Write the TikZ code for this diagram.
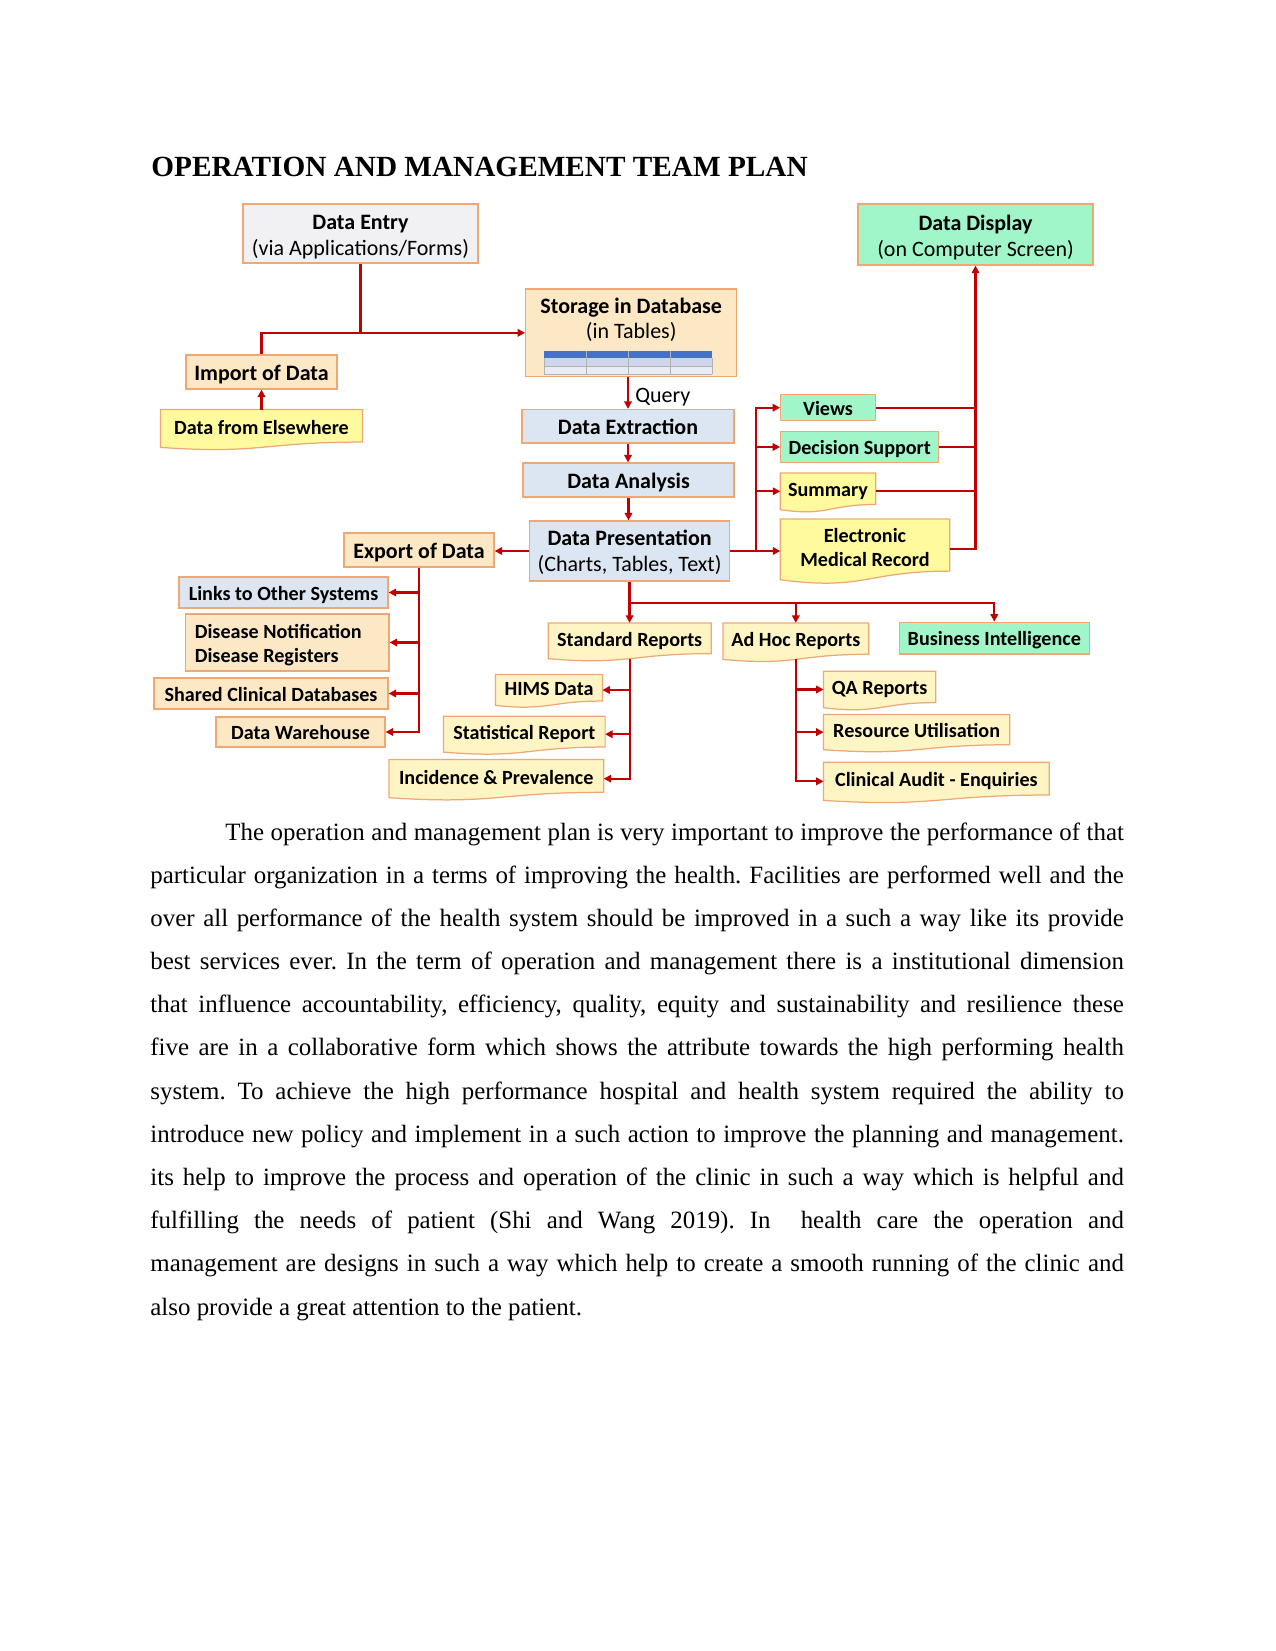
\documentclass[tikz,border=0pt]{standalone}
\usepackage{fontspec}
\setmainfont{Liberation Serif}
\newfontfamily\calib{Carlito}
\usetikzlibrary{arrows.meta,calc,backgrounds}
\definecolor{lred}{HTML}{C00000}
\definecolor{bord}{HTML}{EFA874}
\definecolor{peach}{HTML}{FCE8C4}
\definecolor{lblue}{HTML}{DCE6F2}
\definecolor{mint}{HTML}{A0F6C9}
\definecolor{ylw}{HTML}{FFFA9E}
\definecolor{pyel}{HTML}{FFF5C4}
\definecolor{lgray}{HTML}{F1F1F3}
\definecolor{tblue}{HTML}{4472C4}
\definecolor{trowa}{HTML}{CFD5EA}
\definecolor{trowb}{HTML}{E9EBF5}
\newcommand\mkbox[7][]{\node[#1, minimum width={(#5-#3)*0.4818pt}, minimum height={(#6-#4)*0.4818pt}] (#2) at ({(#3+#5)/2},{(#4+#6)/2}) {#7};}
\newcommand\docbg[2]{%
  \path[fill=#2, draw=bord, line width=0.6pt] let \p1=(#1.north), \p2=(#1.south), \n1={\y1-\y2} in
    (#1.north west) -- (#1.north east) -- ([yshift=0.1413*\n1]#1.south east)
    .. controls ([yshift=0.1413*\n1]#1.south) and ([yshift=-0.185*\n1]#1.south) .. (#1.south west) -- cycle;}
\newcommand\fstrut[1]{\rule{0pt}{#1em}}
\tikzset{
  fbig/.style={font=\calib\fontsize{10.6}{12.5}\selectfont\bfseries},
  fsmall/.style={font=\calib\fontsize{9.7}{11.6}\selectfont\bfseries},
  rbox/.style={draw=bord, line width=0.6pt, inner sep=0pt, align=center,
    execute at begin node={\rule[-0.22em]{0pt}{1.2em}}},
  dbox/.style={inner sep=0pt, align=center,
    execute at end node={\rule[-0.15em]{0pt}{0.15em}}},
  conn/.style={draw=lred, line width=1.1pt},
  arr/.style={conn, -{Triangle[length=3.6pt,width=3.6pt]}},
  body/.style={anchor=base west, inner sep=0pt, font=\fontsize{12}{14}\selectfont\frenchspacing},
}
\begin{document}
\begin{tikzpicture}[x=0.4818pt, y=-0.4818pt]
\useasboundingbox (0,0) rectangle (1275,1651);

\node[anchor=base west, inner sep=0pt, font=\bfseries\fontsize{14.1}{16}\selectfont] (title) at (151,177) {OPERATION AND MANAGEMENT TEAM PLAN};

% top part
\mkbox[rbox, fill=lgray, fbig]{dentry}{243}{204}{478}{263}{\fstrut{1.05}Data Entry\\\textmd{(via Applications/Forms)}}
\mkbox[rbox, fill=mint, fbig]{ddisp}{858}{204}{1093}{265}{\fstrut{1.05}Data Display\\\textmd{(on Computer Screen)}}
\mkbox[rbox, fill=peach]{stor}{525.7}{289}{736.7}{376.7}{}
\node[anchor=base, inner sep=0pt, fbig] (st1) at (631.2,313.3) {Storage in Database};
\node[anchor=base, inner sep=0pt, fbig] (st2) at (631.2,338.5) {\textmd{(in Tables)}};
\fill[tblue] (544.3,351) rectangle (712,358.3);
\fill[trowa] (544.3,358.3) rectangle (712,366);
\fill[trowb] (544.3,366) rectangle (712,374);
\draw[gray!60, line width=0.3pt] (544.3,366) -- (712,366) (544.3,374) -- (712,374)
  (586.7,351) -- (586.7,374) (628.7,351) -- (628.7,374) (670.3,351) -- (670.3,374)
  (544.3,358.3) -- (544.3,374) (712,358.3) -- (712,374);
\mkbox[rbox, fill=peach, fbig]{imp}{186}{355}{337}{389}{Import of Data}
\mkbox[dbox, fsmall]{elsew}{161}{410}{362}{447}{Data from Elsewhere}
\mkbox[rbox, fill=lblue, fbig]{dext}{522}{409.5}{734}{443}{Data Extraction}
\mkbox[rbox, fill=lblue, fbig]{dana}{523}{463}{734}{497}{Data Analysis}
\mkbox[rbox, fill=lblue, fbig]{dpres}{529.6}{521}{729.6}{581}{\fstrut{0.87}Data Presentation\\\textmd{(Charts, Tables, Text)}}

% right column
\mkbox[rbox, fill=mint, fsmall]{views}{780.7}{394.7}{875.3}{420.7}{Views}
\mkbox[rbox, fill=mint, fsmall]{dsup}{780.7}{431.7}{938.7}{462.3}{Decision Support}
\mkbox[dbox, fsmall]{summ}{780.7}{473.3}{875.3}{509.3}{Summary}
\mkbox[dbox, fsmall]{emr}{780.7}{519.3}{949.3}{579.3}{Electronic\\Medical Record}

% left column
\mkbox[rbox, fill=peach, fbig]{expd}{344}{533}{494}{567}{Export of Data}
\mkbox[rbox, fill=lblue, fsmall]{links}{179}{577}{388}{608}{Links to Other Systems}
\mkbox[rbox, fill=peach, fsmall, align=left]{disease}{185.7}{614}{389}{671}{\fstrut{1.06}Disease Notification\hbox to 8.7pt{}\\Disease Registers}
\mkbox[rbox, fill=peach, fsmall]{shared}{154}{678}{388}{709}{Shared Clinical Databases}
\mkbox[rbox, fill=peach, fsmall]{wareh}{216}{717}{385}{747}{Data Warehouse}

% reports
\mkbox[dbox, fsmall]{stdr}{548.7}{623.3}{710.7}{658.3}{Standard Reports}
\mkbox[dbox, fsmall]{adhoc}{723.3}{623.3}{868.3}{659}{Ad Hoc Reports}
\mkbox[rbox, fill=mint, fsmall]{bi}{899.3}{622.3}{1089.3}{654}{Business Intelligence}
\mkbox[dbox, fsmall]{hims}{496}{675}{602}{705}{HIMS Data}
\mkbox[dbox, fsmall]{stat}{444}{716.7}{604.7}{751.7}{Statistical Report}
\mkbox[dbox, fsmall]{inc}{389.3}{760}{603.3}{797.3}{Incidence \& Prevalence}
\mkbox[dbox, fsmall]{qa}{824}{671.7}{935.3}{707.3}{QA Reports}
\mkbox[dbox, fsmall]{ru}{824}{715}{1009.3}{749.3}{Resource Utilisation}
\mkbox[dbox, fsmall]{ca}{824}{762.7}{1048.7}{800}{Clinical Audit - Enquiries}

\begin{scope}[on background layer]
\docbg{elsew}{ylw}
\docbg{summ}{ylw}
\docbg{emr}{ylw}
\docbg{stdr}{pyel}
\docbg{adhoc}{pyel}
\docbg{hims}{pyel}
\docbg{stat}{pyel}
\docbg{inc}{pyel}
\docbg{qa}{pyel}
\docbg{ru}{pyel}
\docbg{ca}{pyel}
\end{scope}

% connectors
\draw[arr] (dentry.south) |- (stor.west);
\draw[conn] (imp.north) |- (dentry.south |- stor.west);
\draw[arr] (elsew.north) -- (imp.south);
\draw[arr] (stor.south -| dext.north) -- (dext.north)
  node[midway, anchor=west, inner sep=0pt, xshift=3pt, yshift=-1.8pt, font=\calib\fontsize{10.6}{12.5}\selectfont] (query) {Query};
\draw[arr] (dext.south) -- (dext.south |- dana.north);
\draw[arr] (dana.south) -- (dana.south |- dpres.north);

\coordinate (busL) at (756,551);
\draw[conn] (dpres.east) -- (busL);
\draw[arr] (busL) |- (views.west);
\draw[arr] (busL) |- (dsup.west);
\draw[arr] (busL) |- (summ.west);
\draw[arr] (busL) -- (busL -| emr.west);
\draw[arr] (emr.east) -| (ddisp.south);
\draw[conn] (views.east) -- (views.east -| ddisp.south);
\draw[conn] (dsup.east) -- (dsup.east -| ddisp.south);
\draw[conn] (summ.east) -- (summ.east -| ddisp.south);

\draw[arr] (dpres.west) -- (dpres.west -| expd.east);
\draw[arr] (expd.south) |- (links.east);
\draw[arr] (expd.south) |- (disease.east);
\draw[arr] (expd.south) |- (shared.east);
\draw[arr] (expd.south) |- (wareh.east);

\coordinate (busB) at (629.6,602.7);
\draw[arr] (dpres.south) -- (dpres.south |- stdr.north);
\draw[arr] (busB) -| (adhoc.north);
\draw[arr] (busB) -| (bi.north);
\draw[arr] (stdr.south) |- (hims.east);
\draw[arr] (stdr.south) |- (stat.east);
\draw[arr] (stdr.south) |- (inc.east);
\draw[arr] (adhoc.south) |- (qa.west);
\draw[arr] (adhoc.south) |- (ru.west);
\draw[arr] (adhoc.south) |- (ca.west);

% body text
\node[body] (l1) at (225,840) {\makebox[432.9pt][s]{The operation and management plan is very important to improve the performance of that}};
\node[body] (l2) at (150,883.2) {\makebox[469.0pt][s]{particular organization in a terms of improving the health. Facilities are performed well and the}};
\node[body] (l3) at (150,926.4) {\makebox[469.0pt][s]{over all performance of the health system should be improved in a such a way like its provide}};
\node[body] (l4) at (150,969.5) {\makebox[469.0pt][s]{best services ever. In the term of operation and management there is a institutional dimension}};
\node[body] (l5) at (150,1012.7) {\makebox[469.0pt][s]{that influence accountability, efficiency, quality, equity and sustainability and resilience these}};
\node[body] (l6) at (150,1055.9) {\makebox[469.0pt][s]{five are in a collaborative form which shows the attribute towards the high performing health}};
\node[body] (l7) at (150,1099.1) {\makebox[469.0pt][s]{system. To achieve the high performance hospital and health system required the ability to}};
\node[body] (l8) at (150,1142.3) {\makebox[469.0pt][s]{introduce new policy and implement in a such action to improve the planning and management.}};
\node[body] (l9) at (150,1185.4) {\makebox[469.0pt][s]{its help to improve the process and operation of the clinic in such a way which is helpful and}};
\node[body] (l10) at (150,1228.6) {\makebox[469.0pt][s]{fulfilling the needs of patient (Shi and Wang 2019). In\ \ health care the operation and}};
\node[body] (l11) at (150,1271.8) {\makebox[469.0pt][s]{management are designs in such a way which help to create a smooth running of the clinic and}};
\node[body] (l12) at (150,1315) {also provide a great attention to the patient.};
\end{tikzpicture}
\end{document}
